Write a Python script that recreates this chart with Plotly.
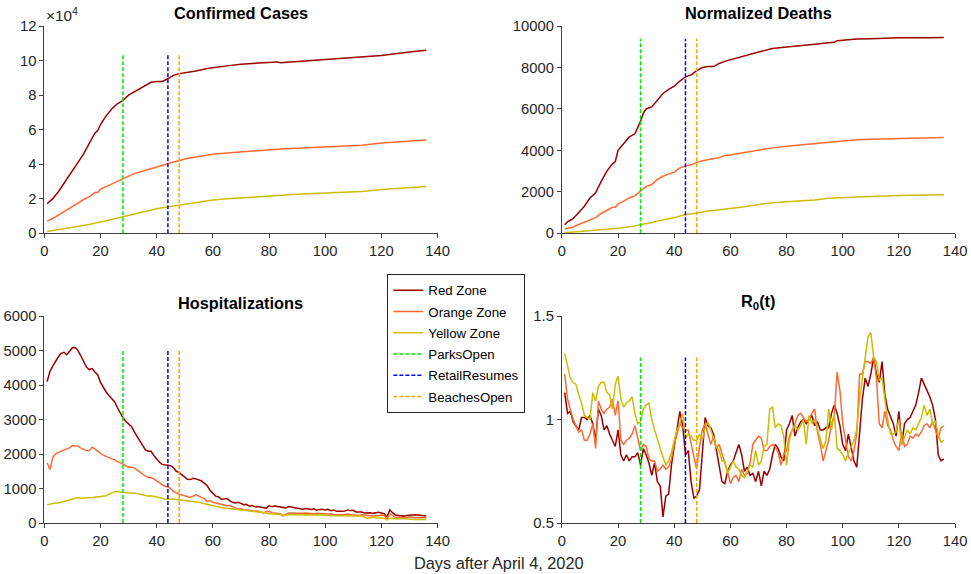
import plotly.graph_objects as go

# ---------------- data ----------------
zones = ["Red Zone", "Orange Zone", "Yellow Zone"]
zone_colors = ["#9b0000", "#ff6a33", "#cdbd00"]

events = ["ParksOpen", "RetailResumes", "BeachesOpen"]
event_days = [28, 44, 48]
event_colors = ["#00e600", "#0000ff", "#ffa500"]

days = list(range(1, 137))

# Confirmed cases (sampled days)
cc_days = [1, 3, 5, 7, 10, 12, 14, 16, 18, 19, 20, 22, 24, 26, 28, 30, 32, 34, 36, 38, 40, 42, 44, 46, 48, 50,
           54, 58, 60, 65, 70, 75, 80, 83, 84, 90, 100, 110, 113, 120, 130, 136]
cc_red = [1.7, 2.0, 2.4, 2.9, 3.6, 4.1, 4.6, 5.2, 5.8, 5.95, 6.3, 6.8, 7.2, 7.5, 7.7, 8.0, 8.2, 8.4, 8.6, 8.75, 8.8, 8.8,
          8.95, 9.15, 9.25, 9.3, 9.4, 9.55, 9.6, 9.7, 9.8, 9.85, 9.9, 9.93, 9.88, 9.95, 10.07, 10.17, 10.18, 10.3, 10.5, 10.6]
cc_orange = [0.7, 0.85, 1.05, 1.25, 1.6, 1.75, 1.95, 2.1, 2.35, 2.35, 2.55, 2.7, 2.85, 3.0, 3.15, 3.3, 3.45, 3.55, 3.65,
             3.75, 3.85, 3.95, 4.05, 4.12, 4.2, 4.3, 4.42, 4.52, 4.57, 4.65, 4.72, 4.8, 4.85, 4.87, 4.88, 4.93, 5.0,
             5.07, 5.1, 5.22, 5.33, 5.4]
cc_yellow = [0.1, 0.15, 0.22, 0.28, 0.35, 0.4, 0.45, 0.5, 0.58, 0.6, 0.65, 0.72, 0.8, 0.9, 0.97, 1.05, 1.12, 1.2, 1.28,
             1.36, 1.42, 1.47, 1.52, 1.57, 1.62, 1.7, 1.8, 1.88, 1.92, 1.99, 2.05, 2.1, 2.15, 2.17, 2.18, 2.25, 2.33,
             2.4, 2.42, 2.53, 2.62, 2.7]
cc_scale = 1e4

# Normalized deaths (sampled days)
nd_days = [1, 2, 4, 6, 8, 10, 12, 14, 16, 18, 19, 20, 22, 24, 26, 28, 29, 30, 32, 34, 36, 38, 40, 42, 44, 46, 48, 50,
           52, 54, 56, 58, 60, 65, 70, 72, 75, 80, 85, 90, 95, 97, 98, 100, 105, 110, 115, 120, 130, 136]
nd_red = [400, 550, 700, 1000, 1300, 1700, 1950, 2500, 3000, 3350, 3450, 4000, 4350, 4650, 4800, 5400, 5800, 6000, 6100,
          6450, 6750, 6950, 7100, 7350, 7550, 7650, 7850, 8000, 8050, 8050, 8200, 8300, 8380, 8580, 8750, 8820, 8920,
          9000, 9080, 9130, 9200, 9220, 9300, 9330, 9380, 9400, 9420, 9440, 9440, 9450]
nd_orange = [200, 240, 300, 420, 520, 650, 750, 950, 1100, 1250, 1250, 1400, 1550, 1700, 1800, 2050, 2150, 2250, 2350,
             2600, 2750, 2850, 2950, 3150, 3250, 3300, 3420, 3500, 3550, 3580, 3650, 3750, 3780, 3900, 4020, 4060, 4120,
             4200, 4260, 4320, 4380, 4400, 4440, 4470, 4510, 4540, 4560, 4580, 4600, 4620]
nd_yellow = [20, 30, 50, 70, 90, 100, 120, 160, 190, 210, 220, 230, 270, 310, 340, 420, 440, 470, 500, 580, 650, 700,
             750, 830, 900, 930, 980, 1050, 1070, 1090, 1120, 1180, 1200, 1270, 1380, 1420, 1470, 1520, 1550, 1600, 1680,
             1700, 1710, 1720, 1750, 1770, 1800, 1820, 1840, 1860]

# Hospitalizations (daily)
hosp_red = [4100, 4400, 4550, 4700, 4820, 4920, 4950, 4880, 4980, 5080,
            5090, 5000, 4850, 4680, 4520, 4450, 4480, 4380, 4300, 4080,
            3920, 3800, 3700, 3620, 3520, 3350, 3180, 3050, 2950, 2870,
            2800, 2650, 2500, 2380, 2250, 2120, 2080, 2080, 1960, 1850,
            1760, 1700, 1690, 1690, 1660, 1600, 1500, 1460, 1400, 1330,
            1270, 1260, 1300, 1280, 1250, 1220, 1150, 1080, 950, 850,
            780, 760, 690, 700, 710, 650, 600, 580, 600, 570,
            530, 540, 490, 510, 470, 480, 470, 460, 430, 500,
            470, 490, 480, 460, 450, 440, 480, 460, 450, 430,
            410, 400, 420, 400, 390, 410, 370, 390, 400, 380,
            400, 360, 380, 340, 330, 340, 350, 380, 360, 370,
            320, 330, 320, 290, 300, 300, 280, 290, 310, 290,
            270, 160, 380, 300, 230, 220, 210, 200, 220, 230,
            240, 240, 230, 220, 220, 200]
hosp_orange = [1750, 1550, 1900, 2000, 2050, 2080, 2100, 2150, 2180, 2250,
               2250, 2230, 2170, 2130, 2100, 2100, 2200, 2150, 2080, 2020,
               1970, 1930, 1880, 1860, 1840, 1780, 1750, 1700, 1660, 1620,
               1620, 1600, 1540, 1480, 1430, 1360, 1330, 1320, 1280, 1220,
               1170, 1110, 1060, 1050, 1000, 920, 870, 830, 810, 790,
               760, 740, 780, 820, 780, 730, 700, 620, 650, 600,
               580, 560, 560, 520, 500, 510, 470, 440, 400, 420,
               380, 380, 360, 360, 340, 350, 320, 290, 330, 340,
               300, 290, 270, 270, 200, 260, 290, 300, 290, 280,
               270, 280, 290, 280, 270, 270, 280, 270, 280, 250,
               260, 270, 240, 240, 230, 240, 250, 260, 240, 230,
               230, 220, 240, 230, 200, 210, 200, 220, 210, 230,
               220, 130, 260, 220, 160, 170, 150, 150, 160, 180,
               170, 150, 160, 150, 140, 150]
hosp_yellow = [530, 550, 560, 580, 580, 600, 630, 650, 680, 690,
               710, 740, 720, 720, 730, 730, 740, 750, 760, 770,
               780, 790, 830, 880, 910, 910, 900, 880, 880, 870,
               860, 870, 860, 850, 820, 800, 780, 790, 770, 770,
               740, 720, 680, 700, 690, 700, 680, 670, 670, 660,
               650, 640, 640, 620, 600, 580, 560, 540, 530, 510,
               490, 470, 440, 430, 430, 420, 410, 390, 380, 370,
               350, 340, 340, 330, 330, 320, 320, 300, 290, 270,
               270, 270, 260, 250, 220, 240, 240, 250, 240, 240,
               230, 230, 240, 230, 220, 230, 240, 230, 230, 230,
               220, 210, 210, 210, 220, 210, 200, 210, 220, 210,
               200, 200, 190, 180, 130, 150, 170, 150, 140, 150,
               140, 90, 140, 130, 120, 120, 130, 120, 110, 110,
               110, 100, 100, 100, 100, 100]

# R0(t) (daily)
r0_red = [1.13, 1.03, 1.04, 0.99, 0.97, 0.95, 1.01, 1.01, 1.0, 1.02,
          0.98, 0.9, 1.05, 1.02, 0.95, 0.97, 0.93, 0.9, 0.87, 0.95,
          0.83, 0.8, 0.83, 0.8, 0.82, 0.82, 0.84, 0.78, 0.86, 0.83,
          0.79, 0.73, 0.79, 0.7, 0.68, 0.53, 0.63, 0.64, 0.78, 0.87,
          0.95, 1.04, 0.97, 0.83, 0.85, 0.7, 0.62, 0.63, 0.66, 0.86,
          1.01, 0.97, 0.96, 0.93, 0.85, 0.76, 0.7, 0.69, 0.75, 0.78,
          0.8, 0.84, 0.88, 0.83, 0.75, 0.77, 0.73, 0.74, 0.7, 0.75,
          0.68, 0.75, 0.73, 0.76, 0.83, 0.88, 0.86, 0.82, 0.8, 0.95,
          0.98, 1.02, 0.92, 0.96, 0.99, 1.0, 0.98, 1.0, 1.02, 0.97,
          0.99, 0.95, 0.95, 0.96, 0.96, 1.03, 1.07, 1.03, 0.97, 0.88,
          0.85, 0.93, 0.87, 0.8, 0.77, 0.92, 1.1, 1.2, 1.16, 1.22,
          1.3, 1.22, 1.18, 1.28, 1.12, 1.05, 1.01, 0.98, 0.92, 1.04,
          0.88, 0.98, 1.0, 1.01, 1.04, 1.07, 1.13, 1.2, 1.17, 1.14,
          1.11, 1.07, 1.0, 0.83, 0.8, 0.81]
r0_orange = [1.22, 1.1, 1.05, 1.0, 0.97, 0.94, 0.95, 0.9, 0.9, 0.93,
             0.98, 0.86, 1.09, 1.05, 1.03, 1.05, 1.06, 1.1, 1.02, 1.09,
             0.9, 0.88, 0.9, 0.91, 0.93, 0.97, 0.91, 0.85, 0.88, 0.87,
             0.81, 0.8, 0.8, 0.75, 0.76, 0.78, 0.76, 0.77, 0.81, 0.88,
             0.93, 0.98, 0.96, 0.95, 0.95, 0.88, 0.82, 0.76, 0.87, 0.95,
             0.98, 0.93, 0.88, 0.92, 0.86, 0.88, 0.83, 0.79, 0.75, 0.69,
             0.72, 0.73, 0.7, 0.76, 0.73, 0.74, 0.79, 0.88, 0.9, 0.92,
             0.91, 0.85, 0.85, 0.87, 0.88, 0.87, 0.84, 0.78, 0.83, 0.85,
             0.92, 0.95, 0.98, 1.02, 1.03, 1.01, 0.99, 1.0, 1.03, 1.05,
             0.94, 0.88, 0.8, 0.85, 0.9, 0.98, 1.02, 1.23, 1.14, 0.98,
             0.9, 0.82, 0.8, 0.85, 0.93, 1.22, 1.22, 1.28, 1.28, 1.27,
             1.3, 1.2, 0.98, 0.96, 1.04, 0.97, 0.95, 0.9, 0.87, 0.85,
             0.94, 0.87, 0.88, 0.92, 0.91, 0.93, 0.92, 0.94, 0.97, 0.98,
             0.96, 0.99, 0.95, 0.91, 0.96, 0.97]
r0_yellow = [1.32, 1.26, 1.2, 1.18, 1.17, 1.12, 1.08, 1.02, 1.01, 1.0,
             1.13, 1.09, 1.16, 1.18, 1.18, 1.13, 1.12, 1.05, 1.17, 1.21,
             1.1, 1.06, 1.08, 1.09, 1.11, 1.03, 0.98, 0.99, 1.05, 1.07,
             1.08, 1.0, 0.95, 0.9, 0.86, 0.82, 0.78, 0.8, 0.84, 0.9,
             0.95, 0.98, 1.03, 0.91, 0.93, 0.92, 0.9, 0.9, 0.93, 0.9,
             0.96, 0.99, 0.95, 0.9, 0.87, 0.85, 0.8, 0.8, 0.74, 0.77,
             0.8, 0.77, 0.76, 0.73, 0.72, 0.75, 0.78, 0.77, 0.85, 0.78,
             0.8, 0.87, 0.88, 1.05, 1.06, 0.96, 0.98, 0.97, 0.92, 0.78,
             0.9, 0.95, 0.97, 0.95, 0.97, 1.0, 0.88, 1.02, 0.98, 1.0,
             0.95, 0.9, 0.86, 0.9, 1.05, 0.95, 1.03, 0.86, 0.85, 0.83,
             0.8, 0.84, 0.87, 0.9, 0.95, 1.1, 1.2, 1.3, 1.4, 1.42,
             1.3, 1.28, 1.19, 1.2, 1.1, 1.0, 0.93, 0.93, 0.94, 1.0,
             0.88, 0.92, 0.95, 0.93, 0.96, 0.95, 0.98, 1.01, 1.07, 1.02,
             1.05, 0.98, 0.99, 0.93, 0.89, 0.9]

# event line extents per panel [low, high]
event_span_cc = [0, 10.4e4]
event_span_nd = [0, 9400]
event_span_hosp = [0, 5000]
event_span_r0 = [0.5, 1.3]

# tick labels
cc_ticks = [0, 2, 4, 6, 8, 10, 12]
nd_ticks = [0, 2000, 4000, 6000, 8000, 10000]
hosp_ticks = [0, 1000, 2000, 3000, 4000, 5000, 6000]
r0_ticks = [0.5, 1, 1.5]
x_ticks = [0, 20, 40, 60, 80, 100, 120, 140]

# ---------------- figure ----------------
# Mapping from target picture pixels to figure pixels (the photographed page is
# offset and slightly scaled relative to the figure).
ZY = 574 / 590
PAD = 8
AX, BX = 1.0195, -3.86
W = 990
H = 582
FS = 1.02
FONT = "Liberation Sans, Arial, sans-serif"
TXT = "#262626"


def px_x(p):
    return (AX * p + BX) / W


def px_y(p):
    return 1 - (p / ZY - PAD) / H


xdom_l = [px_x(44), px_x(436)]
xdom_r = [px_x(560), px_x(952)]
ydom_t = [px_y(233), px_y(26)]
ydom_b = [px_y(523), px_y(316)]

fig = go.Figure()

panels = [
    ("x", "y", [cc_days] * 3, [[v * cc_scale for v in cc_red], [v * cc_scale for v in cc_orange],
                               [v * cc_scale for v in cc_yellow]], event_span_cc),
    ("x2", "y2", [nd_days] * 3, [nd_red, nd_orange, nd_yellow], event_span_nd),
    ("x3", "y3", [days] * 3, [hosp_red, hosp_orange, hosp_yellow], event_span_hosp),
    ("x4", "y4", [days] * 3, [r0_red, r0_orange, r0_yellow], event_span_r0),
]

for pi, (xa, ya, xs, ys, span) in enumerate(panels):
    for zi in range(3):
        fig.add_trace(go.Scatter(
            x=xs[zi], y=ys[zi], mode="lines", name=zones[zi],
            line=dict(color=zone_colors[zi], width=1.5),
            xaxis=xa, yaxis=ya, showlegend=(pi == 0), legendgroup=zones[zi]))
    for ei in range(3):
        fig.add_trace(go.Scatter(
            x=[event_days[ei], event_days[ei]], y=span, mode="lines", name=events[ei],
            line=dict(color=event_colors[ei], width=1.5, dash="4px,2px"),
            xaxis=xa, yaxis=ya, showlegend=(pi == 0), legendgroup=events[ei]))

axis_common = dict(showline=True, linecolor="#404040", linewidth=1, ticks="outside", ticklen=4,
                   tickcolor="#404040", showgrid=False, zeroline=False,
                   tickfont=dict(family=FONT, size=14.5 * FS, color=TXT))
xcommon = dict(axis_common, range=[0, 140], tickvals=x_ticks, ticktext=[str(v) for v in x_ticks])

fig.update_layout(
    width=W, height=H, margin=dict(l=0, r=0, t=0, b=0),
    paper_bgcolor="white", plot_bgcolor="white",
    xaxis=dict(xcommon, domain=xdom_l, anchor="y"),
    yaxis=dict(axis_common, domain=ydom_t, anchor="x", range=[0, 12e4],
               tickvals=[v * cc_scale for v in cc_ticks], ticktext=[str(v) for v in cc_ticks]),
    xaxis2=dict(xcommon, domain=xdom_r, anchor="y2"),
    yaxis2=dict(axis_common, domain=ydom_t, anchor="x2", range=[0, 10000],
                tickvals=nd_ticks, ticktext=[str(v) for v in nd_ticks]),
    xaxis3=dict(xcommon, domain=xdom_l, anchor="y3"),
    yaxis3=dict(axis_common, domain=ydom_b, anchor="x3", range=[0, 6000],
                tickvals=hosp_ticks, ticktext=[str(v) for v in hosp_ticks]),
    xaxis4=dict(xcommon, domain=xdom_r, anchor="y4"),
    yaxis4=dict(axis_common, domain=ydom_b, anchor="x4", range=[0.5, 1.5],
                tickvals=r0_ticks, ticktext=["0.5", "1", "1.5"]),
    legend=dict(x=px_x(386), y=px_y(274), xanchor="left", yanchor="top",
                bordercolor="#262626", borderwidth=1, bgcolor="white",
                font=dict(family=FONT, size=13 * FS, color="black"), traceorder="grouped",
                tracegroupgap=1, itemwidth=30),
    showlegend=True,
)

titles = [("Confirmed Cases", xdom_l, ydom_t), ("Normalized Deaths", xdom_r, ydom_t),
          ("Hospitalizations", xdom_l, ydom_b), ("R<sub>0</sub>(t)", xdom_r, ydom_b)]
for t, xd, yd in titles:
    fig.add_annotation(text="<b>" + t + "</b>", x=(xd[0] + xd[1]) / 2, y=yd[1], xref="paper", yref="paper",
                       xanchor="center", yanchor="bottom", yshift=2, showarrow=False,
                       font=dict(family=FONT, size=16 * FS, color="black"))

fig.add_annotation(text="×10<sup>4</sup>", x=xdom_l[0], y=ydom_t[1], xref="paper", yref="paper",
                   xanchor="left", yanchor="bottom", yshift=0, showarrow=False,
                   font=dict(family=FONT, size=15 * FS, color=TXT))

fig.add_annotation(text="Days after April 4, 2020", x=px_x(497), y=px_y(563), xref="paper", yref="paper",
                   xanchor="center", yanchor="middle", showarrow=False,
                   font=dict(family=FONT, size=16 * FS, color=TXT))

fig.write_html("out.html")
